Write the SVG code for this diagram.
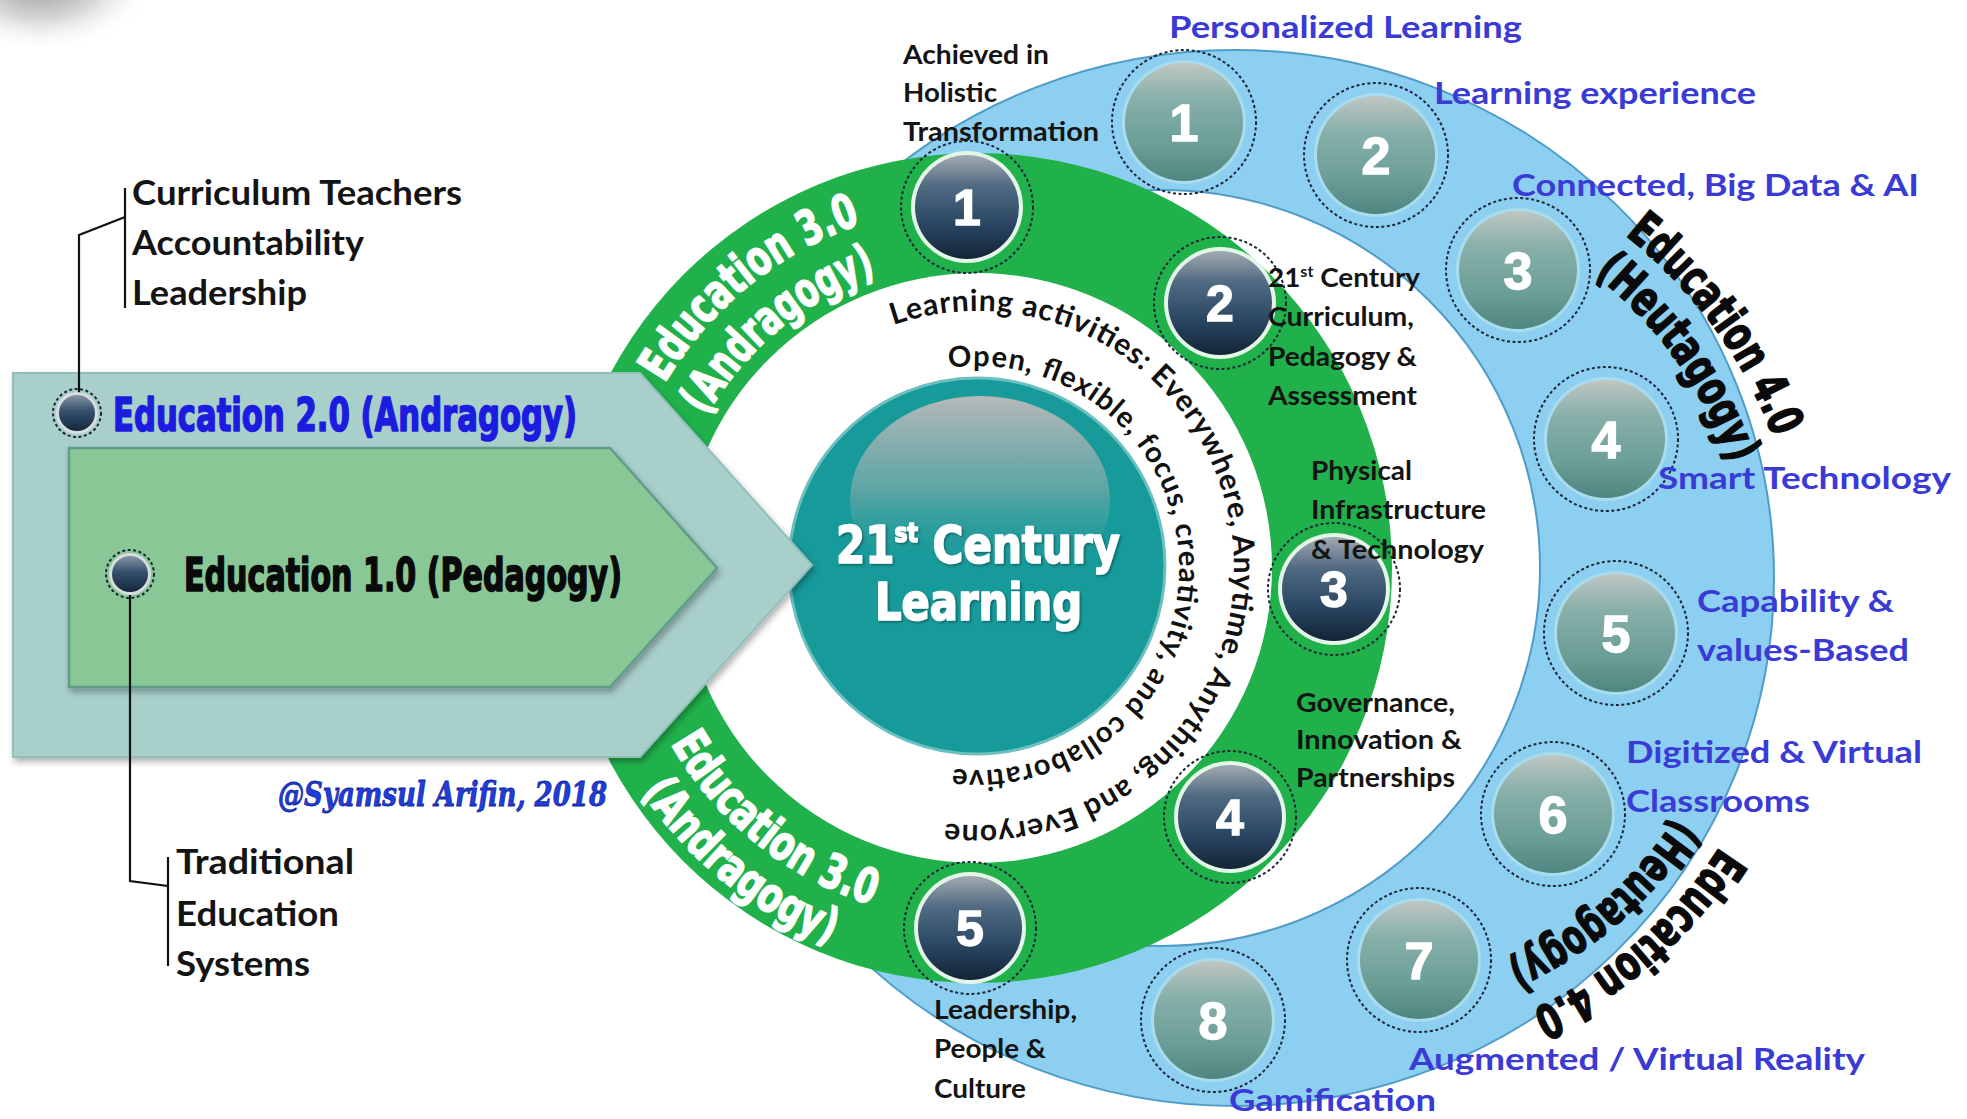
<svg xmlns="http://www.w3.org/2000/svg" width="1967" height="1119" viewBox="0 0 1967 1119">
<defs>
<style>
.lbl{font-family:Lato,'Open Sans','Liberation Sans',sans-serif;font-weight:700}
.blk{fill:#141414}
.blu{fill:#3a3ad6}
.hv{font-family:'DejaVu Sans Condensed','Liberation Sans Narrow','Liberation Sans',sans-serif;font-weight:700;font-stretch:condensed;stroke-linejoin:round}
.hw{fill:#ffffff;stroke:#ffffff;stroke-width:1.6}
.hk{fill:#0a0a0a;stroke:#0a0a0a;stroke-width:1.6}
.num{font-family:'Liberation Sans',Arial,sans-serif;font-weight:700;fill:#ffffff;stroke:#ffffff;stroke-width:1.4;text-anchor:middle}
.dash{fill:none;stroke:#1b2736;stroke-width:2;stroke-dasharray:3 2.5}
.conn{fill:none;stroke:#111;stroke-width:2.2}
.arc{font-family:Lato,'Open Sans','Liberation Sans',sans-serif;font-weight:700;fill:#111}
</style>
<radialGradient id="blob" cx="0.5" cy="0.5" r="0.5">
<stop offset="0" stop-color="#7a7a7a" stop-opacity="0.9"/>
<stop offset="0.55" stop-color="#b0b0b0" stop-opacity="0.5"/>
<stop offset="1" stop-color="#ffffff" stop-opacity="0"/>
</radialGradient>
<linearGradient id="dk" x1="0" y1="0" x2="0" y2="1">
<stop offset="0" stop-color="#a2aab0"/>
<stop offset="0.3" stop-color="#506a82"/>
<stop offset="0.65" stop-color="#2b4864"/>
<stop offset="1" stop-color="#132436"/>
</linearGradient>
<linearGradient id="bl" x1="0" y1="0" x2="0" y2="1">
<stop offset="0" stop-color="#c0c6c3"/>
<stop offset="0.3" stop-color="#88b0aa"/>
<stop offset="0.7" stop-color="#6a9e97"/>
<stop offset="1" stop-color="#4f867f"/>
</linearGradient>
<linearGradient id="dot" x1="0" y1="0" x2="0" y2="1">
<stop offset="0" stop-color="#8595a5"/>
<stop offset="0.45" stop-color="#34506c"/>
<stop offset="1" stop-color="#15283c"/>
</linearGradient>
<linearGradient id="cap" x1="0" y1="0" x2="0" y2="1">
<stop offset="0" stop-color="#b7b9b9" stop-opacity="1"/>
<stop offset="0.45" stop-color="#85abab" stop-opacity="0.65"/>
<stop offset="0.85" stop-color="#179999" stop-opacity="0"/>
</linearGradient>
<filter id="sh" x="-5%" y="-5%" width="115%" height="120%">
<feDropShadow dx="2" dy="4" stdDeviation="3" flood-color="#000" flood-opacity="0.3"/>
</filter>
<filter id="tsh" x="-5%" y="-10%" width="110%" height="130%">
<feDropShadow dx="1.5" dy="1.5" stdDeviation="1" flood-color="#000" flood-opacity="0.35"/>
</filter>
<path id="pOuter" d="M893.3,325 A257,257 0 1,1 945.7,823.1"/>
<path id="pInner" d="M948.9,368 A202,202 0 1,1 952.4,768.5"/>
<path id="pG1" d="M664.6,383.2 A363,363 0 0,1 860.6,224.2"/>
<path id="pG2" d="M706.6,416.3 A310,310 0 0,1 876.1,274.9"/>
<path id="pG3" d="M670.7,743.4 A353,353 0 0,0 871.4,904.8"/>
<path id="pG4" d="M641.7,791.6 A403,403 0 0,0 831.9,944"/>
<path id="pB1" d="M1625.1,235.2 A463,463 0 0,1 1773.7,437.9"/>
<path id="pB2" d="M1594.3,274.6 A413,413 0 0,1 1730.5,465.5"/>
<path id="pB3" d="M1719.9,846.7 A453,453 0 0,1 1531.4,1010.6"/>
<path id="pB4" d="M1675.5,817.8 A400,400 0 0,1 1505.9,964"/>
</defs>
<rect width="1967" height="1119" fill="#ffffff"/>
<ellipse cx="40" cy="-20" rx="115" ry="72" fill="url(#blob)"/>

<g id="ring-education-4">
<ellipse cx="1235" cy="578" rx="539" ry="528" fill="#8dcff0" stroke="#4f9dc6" stroke-width="2"/>
<circle cx="1162" cy="568" r="378" fill="#ffffff" stroke="#4f9dc6" stroke-width="2"/>
</g>

<g id="edu4-items">
<g id="edu4-1"><circle cx="1184" cy="122" r="72" class="dash"/><circle cx="1184" cy="122" r="62" fill="#a9dcec"/><circle cx="1184" cy="122" r="59" fill="url(#bl)"/><text class="num" x="1184" y="141" font-size="52">1</text></g>
<g id="edu4-2"><circle cx="1376" cy="155" r="72" class="dash"/><circle cx="1376" cy="155" r="62" fill="#a9dcec"/><circle cx="1376" cy="155" r="59" fill="url(#bl)"/><text class="num" x="1376" y="174" font-size="52">2</text></g>
<g id="edu4-3"><circle cx="1518" cy="270" r="72" class="dash"/><circle cx="1518" cy="270" r="62" fill="#a9dcec"/><circle cx="1518" cy="270" r="59" fill="url(#bl)"/><text class="num" x="1518" y="289" font-size="52">3</text></g>
<g id="edu4-4"><circle cx="1606" cy="439" r="72" class="dash"/><circle cx="1606" cy="439" r="62" fill="#a9dcec"/><circle cx="1606" cy="439" r="59" fill="url(#bl)"/><text class="num" x="1606" y="458" font-size="52">4</text></g>
<g id="edu4-5"><circle cx="1616" cy="633" r="72" class="dash"/><circle cx="1616" cy="633" r="62" fill="#a9dcec"/><circle cx="1616" cy="633" r="59" fill="url(#bl)"/><text class="num" x="1616" y="652" font-size="52">5</text></g>
<g id="edu4-6"><circle cx="1553" cy="814" r="72" class="dash"/><circle cx="1553" cy="814" r="62" fill="#a9dcec"/><circle cx="1553" cy="814" r="59" fill="url(#bl)"/><text class="num" x="1553" y="833" font-size="52">6</text></g>
<g id="edu4-7"><circle cx="1419" cy="960" r="72" class="dash"/><circle cx="1419" cy="960" r="62" fill="#a9dcec"/><circle cx="1419" cy="960" r="59" fill="url(#bl)"/><text class="num" x="1419" y="979" font-size="52">7</text></g>
<g id="edu4-8"><circle cx="1213" cy="1020" r="72" class="dash"/><circle cx="1213" cy="1020" r="62" fill="#a9dcec"/><circle cx="1213" cy="1020" r="59" fill="url(#bl)"/><text class="num" x="1213" y="1039" font-size="52">8</text></g>
</g>

<g id="ring-education-3">
<circle cx="977" cy="568" r="415" fill="#20b14b"/>
<circle cx="977" cy="568" r="295" fill="#ffffff"/>
</g>

<g id="arc-texts">
<text class="arc" font-size="30"><textPath href="#pOuter" textLength="924" lengthAdjust="spacing">Learning activities: Everywhere, Anytime, Anything, and Everyone</textPath></text>
<text class="arc" font-size="29"><textPath href="#pInner" textLength="687" lengthAdjust="spacing">Open, flexible, focus, creativity, and collaborative</textPath></text>
<text class="hv hw" font-size="48"><textPath href="#pG1" textLength="258" lengthAdjust="spacingAndGlyphs">Education 3.0</textPath></text>
<text class="hv hw" font-size="48"><textPath href="#pG2" textLength="226" lengthAdjust="spacingAndGlyphs">(Andragogy)</textPath></text>
<text class="hv hw" font-size="48"><textPath href="#pG3" textLength="264" lengthAdjust="spacingAndGlyphs">Education 3.0</textPath></text>
<text class="hv hw" font-size="48"><textPath href="#pG4" textLength="246" lengthAdjust="spacingAndGlyphs">(Andragogy)</textPath></text>
<text class="hv hk" font-size="48"><textPath href="#pB1" textLength="254" lengthAdjust="spacingAndGlyphs">Education 4.0</textPath></text>
<text class="hv hk" font-size="48"><textPath href="#pB2" textLength="236" lengthAdjust="spacingAndGlyphs">(Heutagogy)</textPath></text>
<text class="hv hk" font-size="48"><textPath href="#pB3" textLength="253" lengthAdjust="spacingAndGlyphs">Education 4.0</textPath></text>
<text class="hv hk" font-size="48"><textPath href="#pB4" textLength="226" lengthAdjust="spacingAndGlyphs">(Heutagogy)</textPath></text>
</g>

<g id="center-21st-century-learning">
<circle cx="977" cy="566" r="188" fill="#179a9a" stroke="#6cc0c0" stroke-width="3"/>
<ellipse cx="980" cy="500" rx="130" ry="104" fill="url(#cap)"/>
<text class="hv hw" font-size="52" x="836" y="563" textLength="284" lengthAdjust="spacingAndGlyphs" filter="url(#tsh)">21<tspan font-size="27" dy="-21">st</tspan><tspan dy="21"> Century</tspan></text>
<text class="hv hw" font-size="52" x="875" y="620" textLength="207" lengthAdjust="spacingAndGlyphs" filter="url(#tsh)">Learning</text>
</g>

<g id="edu3-items">
<g id="edu3-1"><circle cx="967" cy="207" r="66" class="dash"/><circle cx="967" cy="207" r="56" fill="#e3f6e8"/><circle cx="967" cy="207" r="52" fill="url(#dk)"/><text class="num" x="967" y="225" font-size="50">1</text></g>
<g id="edu3-2"><circle cx="1220" cy="303" r="66" class="dash"/><circle cx="1220" cy="303" r="56" fill="#e3f6e8"/><circle cx="1220" cy="303" r="52" fill="url(#dk)"/><text class="num" x="1220" y="321" font-size="50">2</text></g>
<g id="edu3-3"><circle cx="1334" cy="589" r="66" class="dash"/><circle cx="1334" cy="589" r="56" fill="#e3f6e8"/><circle cx="1334" cy="589" r="52" fill="url(#dk)"/><text class="num" x="1334" y="607" font-size="50">3</text></g>
<g id="edu3-4"><circle cx="1230" cy="817" r="66" class="dash"/><circle cx="1230" cy="817" r="56" fill="#e3f6e8"/><circle cx="1230" cy="817" r="52" fill="url(#dk)"/><text class="num" x="1230" y="835" font-size="50">4</text></g>
<g id="edu3-5"><circle cx="970" cy="928" r="66" class="dash"/><circle cx="970" cy="928" r="56" fill="#e3f6e8"/><circle cx="970" cy="928" r="52" fill="url(#dk)"/><text class="num" x="970" y="946" font-size="50">5</text></g>
</g>

<g id="arrow-education-2">
<path d="M13,373 L640,373 L812,565 L640,757 L13,757 Z" fill="#a9cfcb" stroke="#93bfbb" stroke-width="2" filter="url(#sh)"/>
</g>
<g id="arrow-education-1">
<path d="M69,448 L610,448 L717,568 L610,687 L69,687 Z" fill="#89c797" stroke="#5f9c8c" stroke-width="2.5" filter="url(#sh)"/>
</g>

<g id="connectors">
<polyline class="conn" points="79,395 79,235 125,217"/>
<line class="conn" x1="125" y1="188" x2="125" y2="308"/>
<polyline class="conn" points="130,592 130,881 168,886"/>
<line class="conn" x1="168" y1="857" x2="168" y2="966"/>
</g>

<g id="dot-education-2">
<circle cx="77" cy="413" r="24" class="dash"/>
<circle cx="77" cy="413" r="21" fill="#d8dde0"/>
<circle cx="77" cy="413" r="18" fill="url(#dot)"/>
</g>
<g id="dot-education-1">
<circle cx="130" cy="574" r="24" class="dash"/>
<circle cx="130" cy="574" r="21" fill="#d8dde0"/>
<circle cx="130" cy="574" r="18" fill="url(#dot)"/>
</g>

<g id="left-labels">
<text class="hv" font-size="47" fill="#1c1ce0" stroke="#1c1ce0" stroke-width="1.6" x="113" y="431" textLength="464" lengthAdjust="spacingAndGlyphs">Education 2.0 (Andragogy)</text>
<text class="hv hk" font-size="47" x="184" y="591" textLength="438" lengthAdjust="spacingAndGlyphs">Education 1.0 (Pedagogy)</text>
<text class="lbl blk" font-size="34" x="132" y="205" textLength="330" lengthAdjust="spacingAndGlyphs">Curriculum Teachers</text>
<text class="lbl blk" font-size="34" x="132" y="255" textLength="232" lengthAdjust="spacingAndGlyphs">Accountability</text>
<text class="lbl blk" font-size="34" x="132" y="305" textLength="175" lengthAdjust="spacingAndGlyphs">Leadership</text>
<text class="lbl blk" font-size="34" x="176" y="874" textLength="178" lengthAdjust="spacingAndGlyphs">Traditional</text>
<text class="lbl blk" font-size="34" x="176" y="926" textLength="163" lengthAdjust="spacingAndGlyphs">Education</text>
<text class="lbl blk" font-size="34" x="176" y="976" textLength="134" lengthAdjust="spacingAndGlyphs">Systems</text>
<text font-family="'DejaVu Serif','Liberation Serif',serif" font-style="italic" font-weight="700" font-size="34" fill="#1f3ed6" stroke="#0d1fa0" stroke-width="0.8" x="278" y="806" textLength="329" lengthAdjust="spacingAndGlyphs">@Syamsul Arifin, 2018</text>
</g>

<g id="edu3-labels" class="lbl blk" font-size="26">
<text x="903" y="64" textLength="146" lengthAdjust="spacingAndGlyphs">Achieved in</text>
<text x="903" y="102" textLength="94" lengthAdjust="spacingAndGlyphs">Holistic</text>
<text x="903" y="141" textLength="196" lengthAdjust="spacingAndGlyphs">Transformation</text>
<text x="1268" y="287" textLength="152" lengthAdjust="spacingAndGlyphs">21<tspan font-size="15" dy="-10">st</tspan><tspan dy="10"> Century</tspan></text>
<text x="1268" y="326" textLength="146" lengthAdjust="spacingAndGlyphs">Curriculum,</text>
<text x="1268" y="366" textLength="149" lengthAdjust="spacingAndGlyphs">Pedagogy &amp;</text>
<text x="1268" y="405" textLength="149" lengthAdjust="spacingAndGlyphs">Assessment</text>
<text x="1311" y="480" textLength="101" lengthAdjust="spacingAndGlyphs">Physical</text>
<text x="1311" y="519" textLength="175" lengthAdjust="spacingAndGlyphs">Infrastructure</text>
<text x="1311" y="559" textLength="173" lengthAdjust="spacingAndGlyphs">&amp; Technology</text>
<text x="1296" y="712" textLength="159" lengthAdjust="spacingAndGlyphs">Governance,</text>
<text x="1296" y="749" textLength="166" lengthAdjust="spacingAndGlyphs">Innovation &amp;</text>
<text x="1296" y="787" textLength="159" lengthAdjust="spacingAndGlyphs">Partnerships</text>
<text x="934" y="1019" textLength="143" lengthAdjust="spacingAndGlyphs">Leadership,</text>
<text x="934" y="1058" textLength="112" lengthAdjust="spacingAndGlyphs">People &amp;</text>
<text x="934" y="1098" textLength="92" lengthAdjust="spacingAndGlyphs">Culture</text>
</g>

<g id="edu4-labels" class="lbl blu" font-size="31">
<text x="1169" y="38" textLength="353" lengthAdjust="spacingAndGlyphs">Personalized Learning</text>
<text x="1434" y="104" textLength="322" lengthAdjust="spacingAndGlyphs">Learning experience</text>
<text x="1512" y="196" textLength="407" lengthAdjust="spacingAndGlyphs">Connected, Big Data &amp; AI</text>
<text x="1658" y="489" textLength="293" lengthAdjust="spacingAndGlyphs">Smart Technology</text>
<text x="1697" y="612" textLength="197" lengthAdjust="spacingAndGlyphs">Capability &amp;</text>
<text x="1697" y="661" textLength="212" lengthAdjust="spacingAndGlyphs">values-Based</text>
<text x="1626" y="763" textLength="296" lengthAdjust="spacingAndGlyphs">Digitized &amp; Virtual</text>
<text x="1626" y="812" textLength="184" lengthAdjust="spacingAndGlyphs">Classrooms</text>
<text x="1409" y="1070" textLength="456" lengthAdjust="spacingAndGlyphs">Augmented / Virtual Reality</text>
<text x="1229" y="1111" textLength="207" lengthAdjust="spacingAndGlyphs">Gamification</text>
</g>
</svg>
